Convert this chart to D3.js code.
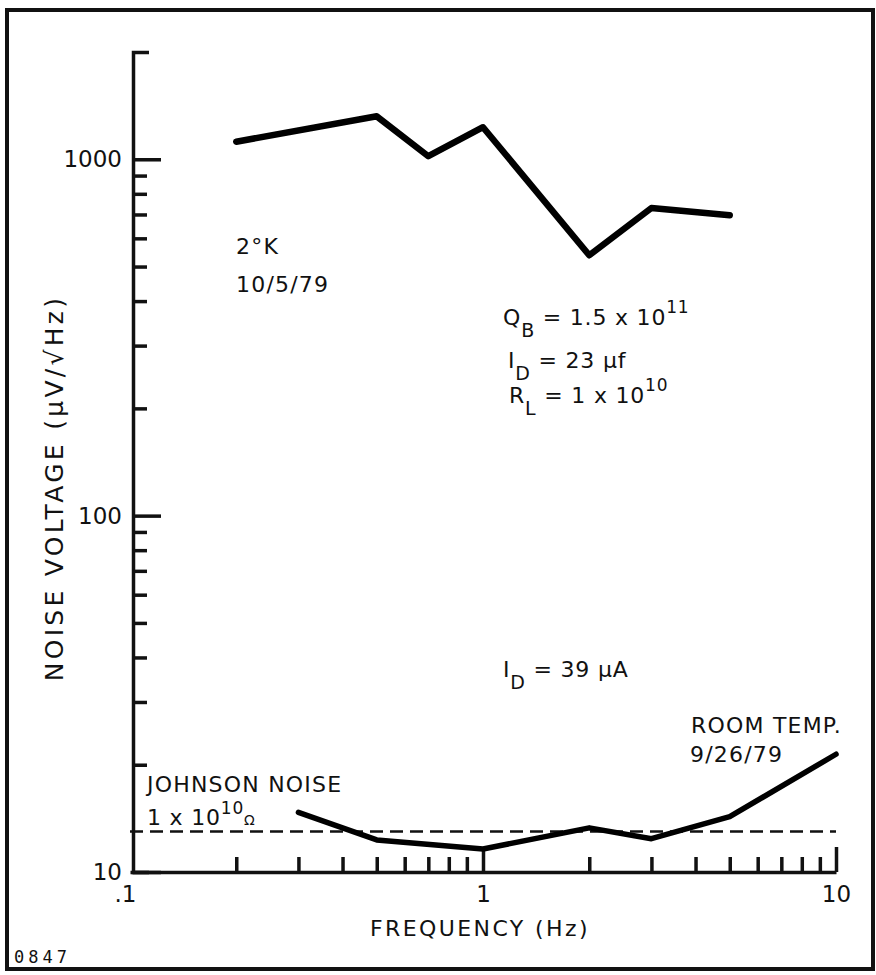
<!DOCTYPE html>
<html>
<head>
<meta charset="utf-8">
<script src="https://cdn.jsdelivr.net/npm/d3@7/dist/d3.min.js"></script>
<style>
  html, body { margin: 0; padding: 0; background: #fff; }
  svg text { font-family: "DejaVu Sans", "Liberation Sans", sans-serif; fill: #111; }
</style>
</head>
<body>
<svg id="chart" width="876" height="975"></svg>
<script>
// ---- data ----
const freq2K = [0.2, 0.5, 0.7, 1, 2, 3, 5];
const volt2K = [1120, 1320, 1020, 1230, 538, 730, 697];
const freqRoom = [0.3, 0.5, 1, 2, 3, 5, 10];
const voltRoom = [14.7, 12.3, 11.6, 13.3, 12.4, 14.3, 21.4];
const johnsonNoise = 13;
const yMajor = [10, 100, 1000];
const yMinor = [20, 30, 40, 50, 60, 70, 80, 90, 200, 300, 400, 500, 600, 700, 800, 900];
const yLabels = ["10", "100", "1000"];
const xMajor = [1, 10];
const xMinor = [0.2, 0.3, 0.4, 0.5, 0.6, 0.7, 0.8, 0.9, 2, 3, 4, 5, 6, 7, 8, 9];
const xLabelVals = [0.1, 1, 10];
const xLabels = [".1", "1", "10"];

const svg = d3.select("#chart");
const x = d3.scaleLog().domain([0.1, 10]).range([130, 836]);
const y = d3.scaleLog().domain([10, 2000]).range([872, 52]);
const x0 = 133;

// frame
svg.append("rect").attr("x", 7).attr("y", 10).attr("width", 866).attr("height", 959)
  .attr("fill", "none").attr("stroke", "#111").attr("stroke-width", 4);

// y axis ticks (inside, to the right)
svg.append("g").attr("transform", `translate(${x0},0)`)
  .call(d3.axisRight(y).tickValues(yMajor).tickSizeInner(28).tickSizeOuter(16).tickFormat(""));
const yAxisMin = svg.append("g").attr("transform", `translate(${x0},0)`)
  .call(d3.axisRight(y).tickValues(yMinor).tickSize(14).tickFormat(""));
yAxisMin.select(".domain").remove();
const yAxisLab = svg.append("g").attr("transform", `translate(${x0},0)`)
  .call(d3.axisLeft(y).tickValues(yMajor).tickSize(0).tickPadding(11)
    .tickFormat((d, i) => yLabels[i]));
yAxisLab.select(".domain").remove();

// x axis ticks (inside, upward)
svg.append("g").attr("transform", "translate(0,872)")
  .call(d3.axisTop(x).tickValues(xMajor).tickSizeInner(25).tickSizeOuter(0).tickFormat(""));
const xAxisMin = svg.append("g").attr("transform", "translate(0,872)")
  .call(d3.axisTop(x).tickValues(xMinor).tickSize(15).tickFormat(""));
xAxisMin.select(".domain").remove();
const xAxisLab = svg.append("g").attr("transform", "translate(0,872)")
  .call(d3.axisBottom(x).tickValues(xLabelVals).tickSize(0).tickPadding(14)
    .tickFormat((d, i) => xLabels[i]));
xAxisLab.select(".domain").remove();
xAxisLab.selectAll(".tick text").filter(d => d === 0.1).attr("dx", -5);

svg.selectAll(".domain, .tick line").attr("stroke", "#111").attr("stroke-width", 3.5);
svg.selectAll(".tick text").attr("font-size", 23).attr("fill", "#111")
  .style("font-family", "DejaVu Sans, sans-serif");

// Johnson noise dashed line
svg.append("line")
  .attr("x1", x(0.1)).attr("x2", x(10))
  .attr("y1", y(johnsonNoise)).attr("y2", y(johnsonNoise))
  .attr("stroke", "#111").attr("stroke-width", 2.5).attr("stroke-dasharray", "13,7");

// series lines
const line = d3.line().x(d => x(d[0])).y(d => y(d[1]));
svg.append("path").datum(freq2K.map((f, i) => [f, volt2K[i]]))
  .attr("d", line).attr("fill", "none").attr("stroke", "#000")
  .attr("stroke-width", 6.5).attr("stroke-linejoin", "round").attr("stroke-linecap", "round");
svg.append("path").datum(freqRoom.map((f, i) => [f, voltRoom[i]]))
  .attr("d", line).attr("fill", "none").attr("stroke", "#000")
  .attr("stroke-width", 5.5).attr("stroke-linejoin", "round").attr("stroke-linecap", "round");

// axis titles
svg.append("text").attr("x", 480).attr("y", 936).attr("text-anchor", "middle")
  .attr("font-size", 22).attr("letter-spacing", 2.4).text("FREQUENCY (Hz)");
svg.append("text").attr("transform", "translate(63,488) rotate(-90)").attr("text-anchor", "middle")
  .attr("font-size", 25).attr("letter-spacing", 3.3).text("NOISE VOLTAGE (μV/√Hz)");

// annotations
function label(xp, yp, txt, size = 22) {
  return svg.append("text").attr("x", xp).attr("y", yp).attr("font-size", size)
    .attr("letter-spacing", 1.2).text(txt);
}
label(236, 254, "2°K");
label(236, 292, "10/5/79");

// Q_B block
const qb = svg.append("text").attr("x", 503).attr("y", 325).attr("font-size", 22).attr("letter-spacing", 0.8);
qb.append("tspan").text("Q");
qb.append("tspan").attr("dy", 12).attr("font-size", 19).text("B");
qb.append("tspan").attr("dy", -12).text(" = 1.5 x 10");
qb.append("tspan").attr("dy", -12).attr("font-size", 17).text("11");

const id1 = svg.append("text").attr("x", 508).attr("y", 368).attr("font-size", 22).attr("letter-spacing", 0.8);
id1.append("tspan").text("I");
id1.append("tspan").attr("dy", 12).attr("font-size", 19).text("D");
id1.append("tspan").attr("dy", -12).text(" = 23 μf");

const rl = svg.append("text").attr("x", 509).attr("y", 403).attr("font-size", 22).attr("letter-spacing", 0.8);
rl.append("tspan").text("R");
rl.append("tspan").attr("dy", 12).attr("font-size", 19).text("L");
rl.append("tspan").attr("dy", -12).text(" = 1 x 10");
rl.append("tspan").attr("dy", -12).attr("font-size", 17).text("10");

const id2 = svg.append("text").attr("x", 503).attr("y", 677).attr("font-size", 22).attr("letter-spacing", 0.8);
id2.append("tspan").text("I");
id2.append("tspan").attr("dy", 12).attr("font-size", 19).text("D");
id2.append("tspan").attr("dy", -12).text(" = 39 μA");

label(147, 792, "JOHNSON NOISE");
const jn = svg.append("text").attr("x", 147).attr("y", 825).attr("font-size", 22).attr("letter-spacing", 0.8);
jn.append("tspan").text("1 x 10");
jn.append("tspan").attr("dy", -11).attr("font-size", 17).text("10");
jn.append("tspan").attr("dy", 11).attr("font-size", 14).text("Ω");

label(691, 733, "ROOM TEMP.");
label(690, 762, "9/26/79");

svg.append("text").attr("x", 14).attr("y", 963).attr("font-size", 17)
  .attr("letter-spacing", 4).style("font-family", "DejaVu Sans Mono, monospace").text("0847");
</script>
</body>
</html>
